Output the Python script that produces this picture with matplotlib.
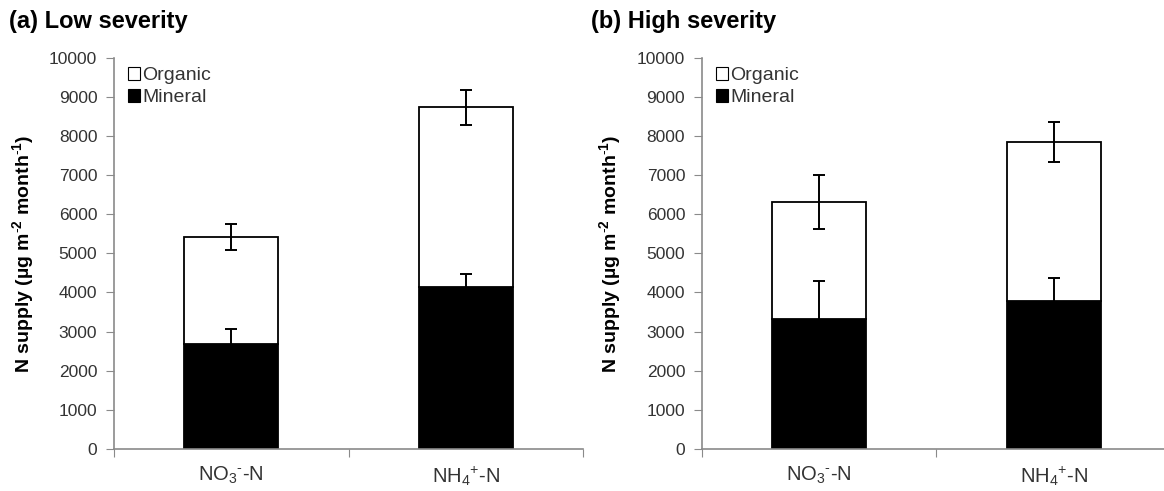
import numpy as np
import matplotlib.pyplot as plt
from matplotlib.patches import Patch

plt.rcParams['font.family'] = ['Liberation Sans', 'DejaVu Sans']
plt.rcParams['mathtext.fontset'] = 'custom'
plt.rcParams['mathtext.rm'] = 'Liberation Sans'
plt.rcParams['mathtext.bf'] = 'Liberation Sans:bold'

# datos de N supply por panel
categorias = ['NO$_3$$^{\\text{-}}$-N', 'NH$_4$$^{+}$-N']
titulos = ['(a) Low severity', '(b) High severity']

mineral_baja = [2680, 4150]
mineral_baja_err = [380, 330]
total_baja = [5420, 8730]
total_baja_err = [340, 450]

mineral_alta = [3320, 3790]
mineral_alta_err = [980, 590]
total_alta = [6310, 7840]
total_alta_err = [690, 510]

paneles = [
    (mineral_baja, mineral_baja_err, total_baja, total_baja_err),
    (mineral_alta, mineral_alta_err, total_alta, total_alta_err),
]

fig = plt.figure(figsize=(11.64, 4.91), dpi=100)
pos = [[0.0979, 0.0855, 0.403, 0.797], [0.603, 0.0855, 0.403, 0.797]]
eje_color = '#8a8a8a'
txt_color = '#333333'

for k in range(2):
    mineral, mineral_err, total, total_err = paneles[k]
    ax = fig.add_axes(pos[k])
    x = np.arange(len(categorias))
    organico = np.array(total) - np.array(mineral)

    ax.bar(x, mineral, width=0.4, color='black', edgecolor='black', linewidth=1.3, zorder=2)
    ax.bar(x, organico, width=0.4, bottom=mineral, color='white', edgecolor='black', linewidth=1.3, zorder=2)
    ax.errorbar(x, mineral, yerr=mineral_err, fmt='none', ecolor='black', elinewidth=1.4, capsize=4, capthick=1.4, zorder=3)
    ax.errorbar(x, total, yerr=total_err, fmt='none', ecolor='black', elinewidth=1.4, capsize=4, capthick=1.4, zorder=3)

    ax.set_xlim(-0.5, 1.5)
    ax.set_ylim(0, 10000)
    ax.set_yticks(np.arange(0, 10001, 1000))
    ax.set_xticks([-0.5, 0.5, 1.5])
    ax.set_xticklabels([])
    ax.set_xticks(x, minor=True)
    ax.set_xticklabels(categorias, minor=True, fontsize=14.5, color=txt_color)
    ax.tick_params(axis='x', which='minor', length=0, pad=11)
    ax.tick_params(axis='x', which='major', length=6, color=eje_color, direction='out')
    ax.tick_params(axis='y', length=6, color=eje_color, labelsize=12.5, labelcolor=txt_color, pad=6)

    for lado in ['top', 'right']:
        ax.spines[lado].set_visible(False)
    for lado in ['left', 'bottom']:
        ax.spines[lado].set_color(eje_color)
        ax.spines[lado].set_linewidth(1.2)

    ax.set_ylabel('N supply (µg m$^{\\mathbf{\\text{-}2}}$ month$^{\\mathbf{\\text{-}1}}$)', fontsize=14,
                  fontweight='bold', labelpad=9)

    handles = [Patch(facecolor='white', edgecolor='black', linewidth=0.8, label='Organic'),
               Patch(facecolor='black', edgecolor='black', linewidth=0.8, label='Mineral')]
    ax.legend(handles=handles, loc='upper left', bbox_to_anchor=(0.005, 1.005), frameon=False,
              fontsize=14, handlelength=0.6, handleheight=0.6, handletextpad=0.15,
              labelspacing=0.25, borderaxespad=0.2, labelcolor=txt_color)

    fig.text(0.008 + 0.5 * k, 0.957, titulos[k], fontsize=17, fontweight='bold', va='center', ha='left')

plt.savefig('out.png', dpi=100)
